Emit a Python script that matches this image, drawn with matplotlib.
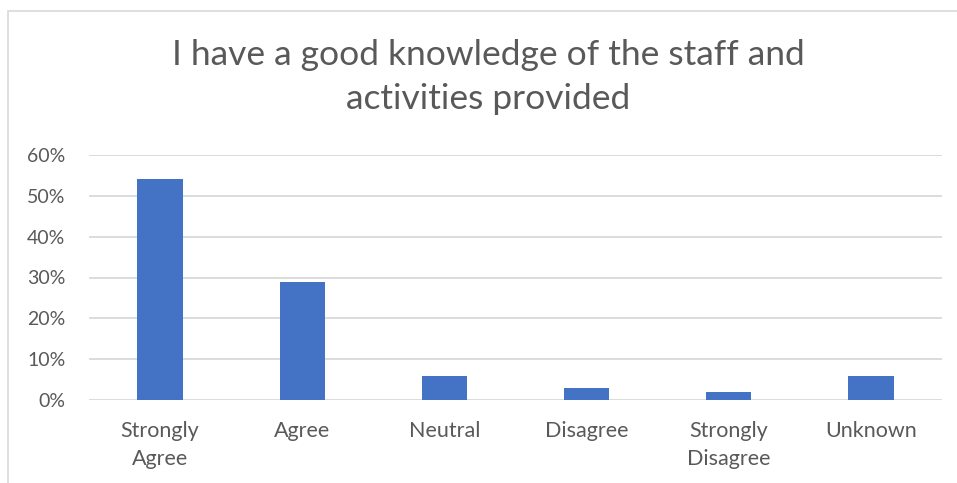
import matplotlib.pyplot as plt
from matplotlib.patches import Rectangle
from matplotlib.ticker import PercentFormatter

categories = ['Strongly\nAgree', 'Agree', 'Neutral', 'Disagree', 'Strongly\nDisagree', 'Unknown']
values = [0.54, 0.29, 0.06, 0.03, 0.02, 0.06]
yticks = [0, 0.1, 0.2, 0.3, 0.4, 0.5, 0.6]
title = 'I have a good knowledge of the staff and\nactivities provided'

plt.rcParams['font.family'] = ['Lato', 'DejaVu Sans']
txt = '#595959'

fig = plt.figure(figsize=(9.57, 4.83), dpi=100)
ax = fig.add_axes([89/957, 83/483, 853/957, 245/483])

x = range(len(categories))
ax.bar(x, values, width=0.32, color='#4472C4', zorder=3)
ax.set_xlim(-0.5, len(categories) - 0.5)
ax.set_ylim(0, 0.6)
ax.set_yticks(yticks)
ax.yaxis.set_major_formatter(PercentFormatter(1.0, decimals=0))
ax.set_xticks(list(x))
ax.set_xticklabels(categories, linespacing=1.5)
ax.grid(axis='y', color='#D9D9D9', linewidth=1.3, zorder=0)
for s in ax.spines.values():
    s.set_visible(False)
ax.tick_params(axis='both', length=0, labelcolor=txt)
ax.tick_params(axis='y', pad=17, labelsize=14)
ax.tick_params(axis='x', pad=15, labelsize=15.5)

fig.text(0.51, 0.84, title, ha='center', va='center', fontsize=25.5,
         color=txt, linespacing=1.45)

# chart border (only left and top visible in crop)
fig.patches.append(Rectangle((8/957, -0.1), 1.2, (483 - 11)/483 + 0.1,
                             transform=fig.transFigure, fill=False,
                             edgecolor='#D9D9D9', linewidth=1.2))

fig.savefig('out.png', dpi=100, facecolor='white')
